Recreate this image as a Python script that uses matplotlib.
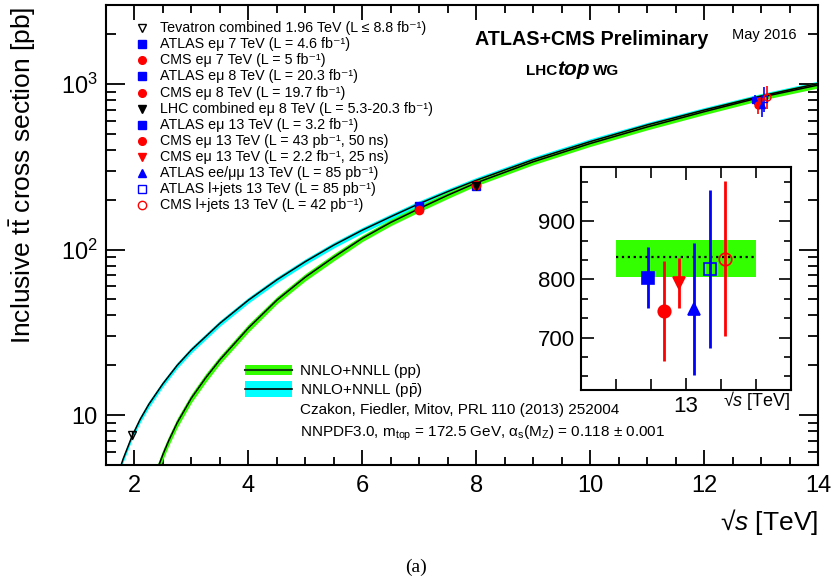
import matplotlib
matplotlib.use("Agg")
import matplotlib.pyplot as plt
import numpy as np
from matplotlib.ticker import FixedLocator, MultipleLocator, LogLocator, NullFormatter

plt.rcParams['font.family'] = ['Liberation Sans', 'DejaVu Sans']
plt.rcParams['mathtext.fontset'] = 'custom'
plt.rcParams['mathtext.rm'] = 'Liberation Sans'
plt.rcParams['mathtext.it'] = 'Liberation Sans:italic'
plt.rcParams['mathtext.bf'] = 'Liberation Sans:bold'

# theory curves (NNLO+NNLL)
pp_x = [2.35, 2.4, 2.5, 2.6, 2.75, 3.0, 3.25, 3.5, 4.0, 4.5, 5.0, 5.5, 6.0, 6.5,
        7.0, 7.5, 8.0, 9.0, 10.0, 11.0, 12.0, 13.0, 14.0]
pp_y = [4.2, 4.7, 5.8, 7.0, 9.0, 12.7, 16.8, 21.6, 33.6, 49.5, 68.2, 90, 117, 146,
        177, 213, 253, 339, 437, 550, 680, 832, 985]
pp_unc = [7, 7, 7, 6.5, 6.5, 6, 6, 5.5, 5.5, 5, 5, 5, 4.5, 4.5,
          4.5, 4.5, 4, 4, 4, 4, 4, 4, 4]  # percent

ppbar_x = [1.7, 1.8, 1.96, 2.1, 2.25, 2.5, 2.75, 3.0, 3.5, 4.0, 4.5, 5.0, 5.5, 6.0,
           6.5, 7.0, 7.5, 8.0, 9.0, 10.0, 11.0, 12.0, 13.0, 14.0]
ppbar_y = [4.27, 5.43, 7.5, 9.44, 11.6, 15.5, 20.0, 24.8, 35.9, 49.5, 65.7, 84.6, 106.5, 131,
           158, 189.5, 224, 262, 349, 449, 566, 696, 846, 1006]
ppbar_unc = [4.5, 4.5, 4.5, 4.5, 4.5, 4, 4, 4, 4, 4, 4, 4, 4, 4,
             4, 4, 4, 4, 4, 4, 3.5, 3.5, 3.5, 3.5]

# measurements
tev_x, tev_y, tev_err = [1.96], [7.60], [0.41]
atlas_emu_x, atlas_emu_y, atlas_emu_err = [7.0, 8.0], [182.9, 242.4], [7.1, 10.3]
cms_emu_x, cms_emu_y, cms_emu_err = [7.0, 8.0], [173.6, 244.9], [6.5, 9.2]
lhc_x, lhc_y, lhc_err = [8.0], [241.5], [8.5]

# 13 TeV: ATLAS emu, CMS emu 50ns, CMS emu 25ns, ATLAS ee/mumu, ATLAS l+jets, CMS l+jets
x13_main = [12.9, 12.94, 12.98, 13.02, 13.06, 13.1]
x13_inset = [12.946, 12.968, 12.99, 13.012, 13.034, 13.056]
y13 = [803, 746, 793, 749, 817, 835]
y13_lo = [53, 86, 43, 113, 135, 132]
y13_hi = [52, 86, 43, 114, 136, 134]
style13 = [('s', 'blue', True), ('o', 'red', True), ('v', 'red', True),
           ('^', 'blue', True), ('s', 'blue', False), ('o', 'red', False)]

theory13 = 838
theory13_lo, theory13_hi = 804, 867

legend_labels = [
    'Tevatron combined 1.96 TeV (L ≤ 8.8 fb⁻¹)',
    'ATLAS eμ 7 TeV (L = 4.6 fb⁻¹)',
    'CMS eμ 7 TeV (L = 5 fb⁻¹)',
    'ATLAS eμ 8 TeV (L = 20.3 fb⁻¹)',
    'CMS eμ 8 TeV (L = 19.7 fb⁻¹)',
    'LHC combined eμ 8 TeV (L = 5.3-20.3 fb⁻¹)',
    'ATLAS eμ 13 TeV (L = 3.2 fb⁻¹)',
    'CMS eμ 13 TeV (L = 43 pb⁻¹, 50 ns)',
    'CMS eμ 13 TeV (L = 2.2 fb⁻¹, 25 ns)',
    'ATLAS ee/μμ 13 TeV (L = 85 pb⁻¹)',
    'ATLAS l+jets 13 TeV (L = 85 pb⁻¹)',
    'CMS l+jets 13 TeV (L = 42 pb⁻¹)',
]
legend_markers = [('v', 'black', False), ('s', 'blue', True), ('o', 'red', True),
                  ('s', 'blue', True), ('o', 'red', True), ('v', 'black', True)] + style13

GREEN = '#33ff00'
CYAN = '#00ffff'


def point(ax, x, y, lo, hi, marker, color, filled, ms, elw, mew=1.0):
    ax.errorbar(x, y, yerr=[lo, hi], fmt=marker, color=color, ms=ms,
                mfc=color if filled else 'none', mec=color, mew=mew,
                elinewidth=elw, capsize=0, zorder=5)


fig = plt.figure(figsize=(8.33, 5.87), dpi=100)
W, H = 833.0, 587.0
ax = fig.add_axes([106 / W, 1 - 465 / H, 712 / W, 460 / H])

ppx = np.array(pp_x); ppy = np.array(pp_y); ppu = np.array(pp_unc) / 100
pbx = np.array(ppbar_x); pby = np.array(ppbar_y); pbu = np.array(ppbar_unc) / 100
ax.fill_between(pbx, pby * (1 - pbu), pby * (1 + pbu), color=CYAN, lw=0, zorder=1)
ax.fill_between(ppx, ppy * (1 - ppu), ppy * (1 + ppu), color=GREEN, lw=0, zorder=2)
ax.plot(pbx, pby, color='black', lw=1.1, zorder=3)
ax.plot(ppx, ppy, color='black', lw=1.1, zorder=3)

point(ax, tev_x, tev_y, tev_err, tev_err, 'v', 'black', False, 6, 1)
point(ax, atlas_emu_x, atlas_emu_y, atlas_emu_err, atlas_emu_err, 's', 'blue', True, 5.5, 1)
point(ax, cms_emu_x, cms_emu_y, cms_emu_err, cms_emu_err, 'o', 'red', True, 6, 1)
point(ax, lhc_x, lhc_y, lhc_err, lhc_err, 'v', 'black', True, 5.5, 1)
for i in range(len(y13)):
    m, c, f = style13[i]
    point(ax, [x13_main[i]], [y13[i]], [y13_lo[i]], [y13_hi[i]], m, c, f, 5, 1.2)

ax.set_yscale('log')
ax.set_xlim(1.5, 14)
ax.set_ylim(5, 3000)
ax.xaxis.set_major_locator(MultipleLocator(2))
ax.xaxis.set_minor_locator(MultipleLocator(0.5))
ax.yaxis.set_major_locator(FixedLocator([10, 100, 1000]))
ax.set_yticklabels(['10', '$10^2$', '$10^3$'])
ax.yaxis.set_minor_locator(LogLocator(base=10, subs=np.arange(2, 10)))
ax.yaxis.set_minor_formatter(NullFormatter())
ax.tick_params(which='both', direction='in', top=True, right=True, width=1.3, labelsize=17)
ax.tick_params(axis='x', which='major', length=11, pad=7)
ax.tick_params(axis='x', which='minor', length=6)
ax.tick_params(axis='y', which='major', length=14, pad=6)
ax.tick_params(axis='y', which='minor', length=7)
for s in ax.spines.values():
    s.set_linewidth(1.5)

ax.text(1.0, -0.124, '√$s$ [TeV]', transform=ax.transAxes, ha='right', va='center', fontsize=19)
fig.text(23 / W, 1 - 7 / H, r'Inclusive t$\bar{\rm t}$ cross section [pb]', rotation=90,
         ha='center', va='top', fontsize=19)

# marker legend
for i, label in enumerate(legend_labels):
    yy = (465 - (28.3 + 16.06 * i)) / 460
    m, c, f = legend_markers[i]
    ax.plot([0.0501], [yy], marker=m, ms=5.5 if f else 6, color=c,
            mfc=c if f else 'none', mec=c, mew=1.0, ls='none', transform=ax.transAxes, zorder=6)
    ax.text(0.0758, yy, label, transform=ax.transAxes, fontsize=10.3, va='center')

ax.text(0.518, 0.924, 'ATLAS+CMS Preliminary', transform=ax.transAxes, fontsize=14.2,
        fontweight='bold', va='center')
ax.text(0.879, 0.935, 'May 2016', transform=ax.transAxes, fontsize=10.5, va='center')
ax.text(0.5895, 0.857, 'LHC', transform=ax.transAxes, fontsize=11, fontweight='bold', va='center')
ax.text(0.6335, 0.860, 'top', transform=ax.transAxes, fontsize=15, fontweight='bold',
        style='italic', va='center')
ax.text(0.6845, 0.857, 'WG', transform=ax.transAxes, fontsize=11, fontweight='bold', va='center')

# theory legend
ax.add_patch(plt.Rectangle((0.1952, 0.196), 0.0656, 0.022, color=GREEN, transform=ax.transAxes, lw=0))
ax.plot([0.1952, 0.2608], [0.207, 0.207], color='#104010', lw=1.5, transform=ax.transAxes)
ax.add_patch(plt.Rectangle((0.1952, 0.148), 0.0656, 0.034, color=CYAN, transform=ax.transAxes, lw=0))
ax.plot([0.1952, 0.2608], [0.165, 0.165], color='black', lw=1.2, transform=ax.transAxes)
ax.text(0.2725, 0.205, 'NNLO+NNLL (pp)', transform=ax.transAxes, fontsize=11, va='center')
ax.text(0.2725, 0.163, r'NNLO+NNLL (p$\bar{\rm p}$)', transform=ax.transAxes, fontsize=11, va='center')
ax.text(0.2725, 0.12, 'Czakon, Fiedler, Mitov, PRL 110 (2013) 252004', transform=ax.transAxes,
        fontsize=11, va='center')
ax.text(0.2725, 0.068, r'NNPDF3.0, m$_{\rm top}$ = 172.5 GeV, α$_{\rm s}$(M$_{\rm Z}$) = 0.118 ± 0.001',
        transform=ax.transAxes, fontsize=11, va='center')

# inset
ax_in = fig.add_axes([581 / W, 1 - 390 / H, 210 / W, 223 / H])
ax_in.fill_between([12.9, 13.1], theory13_lo, theory13_hi, color=GREEN, lw=0)
ax_in.plot([12.9, 13.1], [theory13, theory13], color='black', ls=':', lw=1.6)
for i in range(len(y13)):
    m, c, f = style13[i]
    point(ax_in, [x13_inset[i]], [y13[i]], [y13_lo[i]], [y13_hi[i]], m, c, f, 9, 2, 1.2)
ax_in.set_xlim(12.85, 13.15)
ax_in.set_ylim(610, 993)
ax_in.xaxis.set_major_locator(FixedLocator([13]))
ax_in.set_xticklabels(['13'])
ax_in.xaxis.set_minor_locator(FixedLocator([12.9, 12.95, 13.05, 13.1]))
ax_in.yaxis.set_major_locator(FixedLocator([700, 800, 900]))
ax_in.yaxis.set_minor_locator(MultipleLocator(100 / 3))
ax_in.tick_params(which='both', direction='in', top=True, right=True, width=1.2, labelsize=16)
ax_in.tick_params(which='major', length=9, pad=4)
ax_in.tick_params(which='minor', length=5)
ax_in.tick_params(axis='x', which='minor', length=8)
for s in ax_in.spines.values():
    s.set_linewidth(1.5)
ax_in.text(1.0, -0.045, '√$s$ [TeV]', transform=ax_in.transAxes, ha='right', va='center', fontsize=13)

fig.text(416 / W, 1 - 567 / H, '(a)', ha='center', va='center', fontsize=14, family='Liberation Serif')

fig.savefig('out.png', dpi=100)
